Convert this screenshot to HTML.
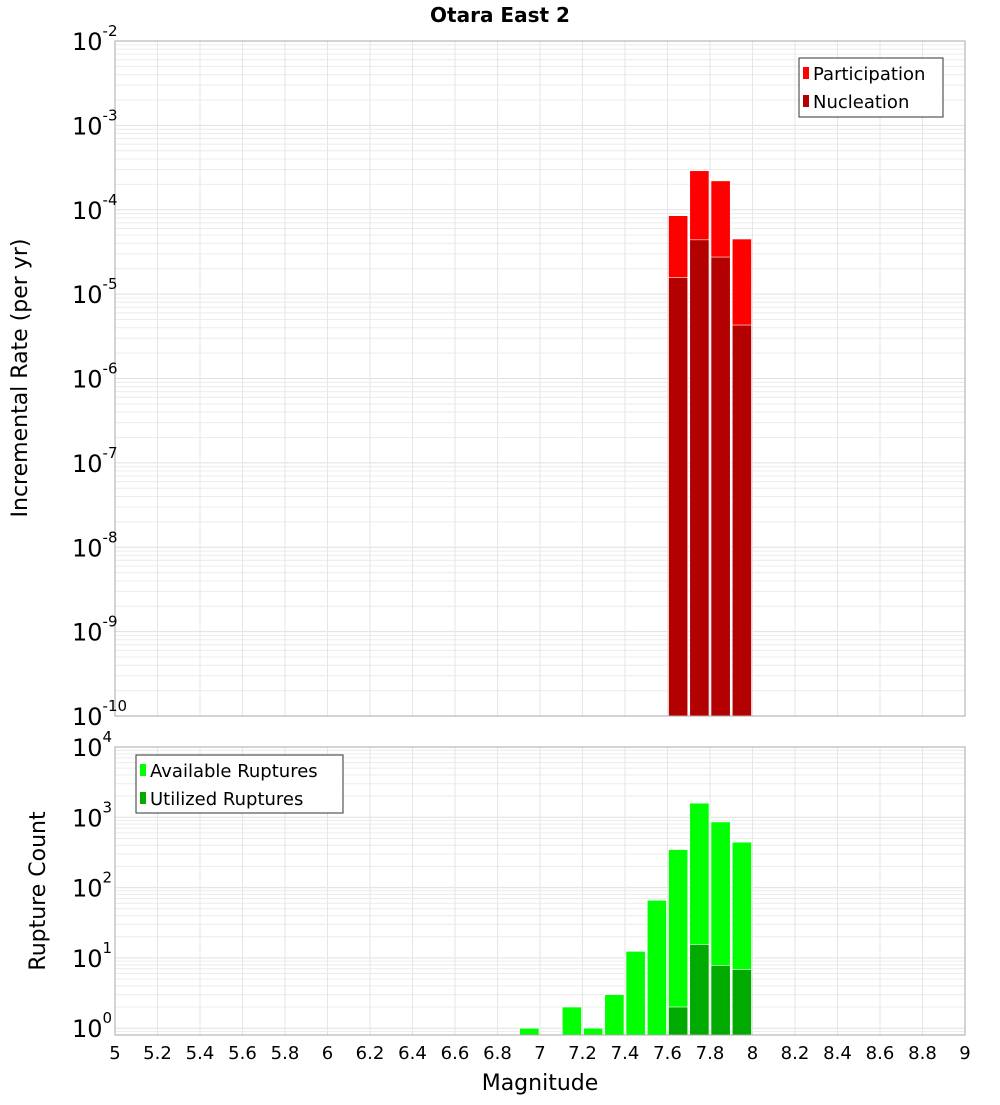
<!DOCTYPE html>
<html><head><meta charset="utf-8"><style>
body{margin:0;background:#fff;}
svg{font-family:"DejaVu Sans","Liberation Sans",sans-serif;}
</style></head><body>
<svg id="c" width="1000" height="1100" xmlns="http://www.w3.org/2000/svg">
<text x="500" y="22" text-anchor="middle" font-size="20" font-weight="bold">Otara East 2</text>
<g id="gtop"></g>
<g id="gbot"></g>
<text transform="translate(27,378) rotate(-90)" text-anchor="middle" font-size="22">Incremental Rate (per yr)</text>
<text transform="translate(45,891) rotate(-90)" text-anchor="middle" font-size="22">Rupture Count</text>
<text x="540" y="1090" text-anchor="middle" font-size="22">Magnitude</text>
<g>
<rect x="799" y="58" width="144" height="59" fill="#fff" stroke="#333"/>
<rect x="803" y="67" width="6" height="12" fill="#ff0000"/>
<text x="813" y="80" font-size="18">Participation</text>
<rect x="803" y="95" width="6" height="12" fill="#b30000"/>
<text x="813" y="108" font-size="18">Nucleation</text>
</g>
<g>
<rect x="136" y="755" width="207" height="58" fill="#fff" stroke="#333"/>
<rect x="140" y="764" width="6" height="12" fill="#00ff00"/>
<text x="150" y="777" font-size="18">Available Ruptures</text>
<rect x="140" y="792" width="6" height="12" fill="#00aa00"/>
<text x="150" y="805" font-size="18">Utilized Ruptures</text>
</g>
</svg>
<script>
const rateMags=[7.65,7.75,7.85,7.95];
const participation=[8.5e-5,2.9e-4,2.2e-4,4.5e-5];
const nucleation=[1.57e-5,4.4e-5,2.75e-5,4.3e-6];
const countMags=[6.95,7.15,7.25,7.35,7.45,7.55,7.65,7.75,7.85,7.95];
const available=[1,2,1,3,12.4,66,347,1590,860,443];
const utilMags=[7.65,7.75,7.85,7.95];
const utilized=[2,15.5,7.8,6.8];
const xTicks=[5,5.2,5.4,5.6,5.8,6,6.2,6.4,6.6,6.8,7,7.2,7.4,7.6,7.8,8,8.2,8.4,8.6,8.8,9];
const rateExps=[-2,-3,-4,-5,-6,-7,-8,-9,-10];
const countExps=[4,3,2,1,0];

const NS="http://www.w3.org/2000/svg";
const X0=115,X1=965;
function x(m){return X0+(m-5)/4*(X1-X0);}
function mk(p,t,a){const e=document.createElementNS(NS,t);for(const k in a)e.setAttribute(k,a[k]);p.appendChild(e);return e;}
function yT(v){return 41+(-2-Math.log10(v))/8*675;}
const bMin=Math.log10(0.8),bMax=4;
function yB(v){return 747+(bMax-Math.log10(v))/(bMax-bMin)*288;}

function frame(g,t0,b0,yf,lo,hi){
  for(let d=lo;d<hi;d++)for(let k=1;k<10;k++){const v=k*Math.pow(10,d);const yy=yf(v);if(yy<t0||yy>b0)continue;
    const l=mk(g,'line',{x1:X0,x2:X1,y1:yy,y2:yy,stroke:k==1?'#e0e0e0':'#ececec','stroke-width':1});
    
    }
  xTicks.forEach(t=>{const l=mk(g,'line',{x1:x(t),x2:x(t),y1:t0,y2:b0,stroke:'#e6e6e6'});
    
    });
}
const gTop=document.getElementById('gtop'),gBot=document.getElementById('gbot');
frame(gTop,41,716,yT,-10,-2);
frame(gBot,747,1035,yB,-1,4);
function bars(g,mags,vals,fill,yf,base,name){
  mags.forEach((m,i)=>{const yy=yf(vals[i]);const r=mk(g,'rect',{x:x(m-0.05)+1,y:yy,width:x(m+0.05)-x(m-0.05)-2,height:base-yy,fill:fill,stroke:'#fff','stroke-width':0.6});
    
    });
}
bars(gTop,rateMags,participation,'#ff0000',yT,716,'participation-bar');
bars(gTop,rateMags,nucleation,'#b30000',yT,716,'nucleation-bar');
bars(gBot,countMags,available,'#00ff00',yB,1035,'available-bar');
bars(gBot,utilMags,utilized,'#00aa00',yB,1035,'utilized-bar');
mk(gTop,'rect',{x:X0,y:41,width:X1-X0,height:675,fill:'none',stroke:'#aaa'});
mk(gBot,'rect',{x:X0,y:747,width:X1-X0,height:288,fill:'none',stroke:'#aaa'});
function ylab(g,exps,yf){exps.forEach(e=>{const yy=yf(Math.pow(10,e));const t=mk(g,'text',{x:72,y:yy+9,'font-size':24});
  t.textContent='10';const s=mk(t,'tspan',{dy:-14,'font-size':15});s.textContent=String(e);
  
  });}
ylab(gTop,rateExps,yT);ylab(gBot,countExps,yB);
xTicks.forEach(t=>{const e=mk(gBot,'text',{x:x(t),y:1059,'text-anchor':'middle','font-size':18});e.textContent=String(t);
  
  });
</script>
</body></html>
